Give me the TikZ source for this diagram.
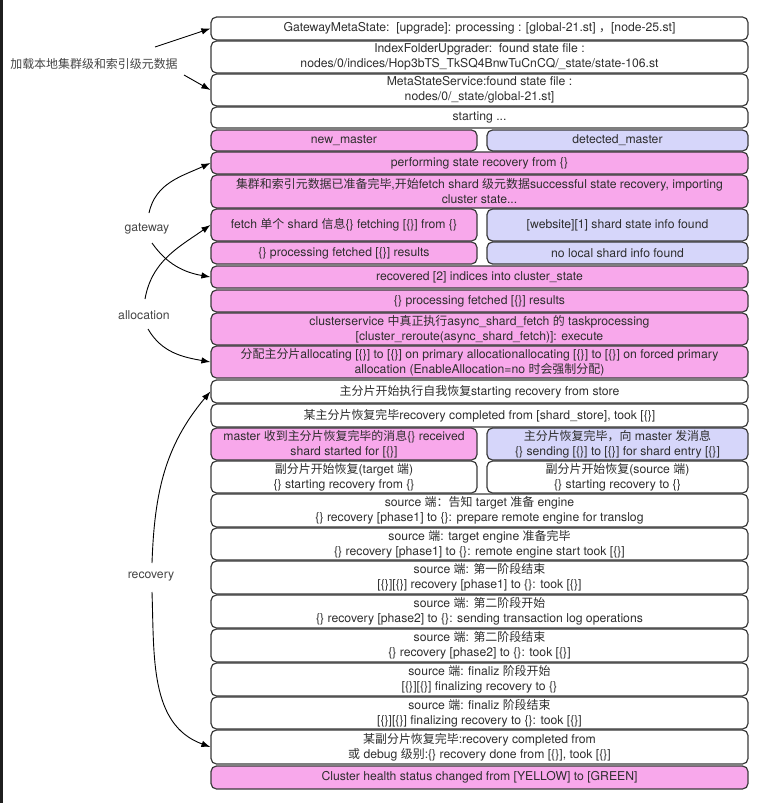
\documentclass[tikz,border=0pt]{standalone}
\usepackage{fontspec}
\setmainfont{TeX Gyre Heros}
\newfontfamily\cjkfont[Scale=0.98]{Noto Sans CJK SC}
\newcommand\zh[1]{{\cjkfont #1}}
\usetikzlibrary{arrows.meta}
\definecolor{bpink}{HTML}{F8A8EB}
\definecolor{blav}{HTML}{D6D6FA}
\definecolor{bline}{HTML}{3A3A3A}
\definecolor{btext}{HTML}{2E2E2E}
\definecolor{ltext}{HTML}{444444}
\tikzset{
  box/.style={draw=bline, line width=1.2pt, rounded corners=5.5pt, inner sep=0pt,
    align=center, text=btext, font=\fontsize{12.2}{15}\selectfont},
  lbl/.style={text=ltext, font=\fontsize{12.2}{15}\selectfont, inner sep=1pt},
  arr/.style={draw=black, line width=0.9pt, -{Latex[length=9pt,width=6.5pt]}}
}
\newcommand\drawbox[7]{%
  \node[box, fill=#6, minimum width={(#3-#2)*1pt}, minimum height={(#5-#4)*1pt}]
    (#1) at ({(#2+#3)/2},{-(#4+#5)/2}) {#7};}
\begin{document}
\begin{tikzpicture}[x=1pt,y=1pt]
\useasboundingbox (0,0) rectangle (769,-803);
\fill[black!88] (0,0) rectangle (3,-803);
% boxes
\drawbox{b1}{211}{748}{17}{40}{white}{GatewayMetaState:\ \ [upgrade]: processing : [global-21.st] \zh{，}[node-25.st]}
\drawbox{b2}{211}{748}{41}{73}{white}{IndexFolderUpgrader:\ \ found state file :\\nodes/0/indices/Hop3bTS\_TkSQ4BnwTuCnCQ/\_state/state-106.st}
\drawbox{b3}{211}{748}{74}{106}{white}{MetaStateService:found state file :\\nodes/0/\_state/global-21.st]}
\drawbox{b4}{211}{748}{107}{128}{white}{starting ...}
\drawbox{b5a}{211}{477}{130}{151}{bpink}{new\_master}
\drawbox{b5b}{487}{748}{130}{151}{blav}{detected\_master}
\drawbox{b6}{211}{748}{152}{174}{bpink}{performing state recovery from \{\}}
\drawbox{b7}{211}{748}{175}{208}{bpink}{\zh{集群和索引元数据已准备完毕},\zh{开始}fetch shard \zh{级元数据}successful state recovery, importing\\cluster state...}
\drawbox{b8a}{211}{477}{209}{241}{bpink}{fetch \zh{单个} shard \zh{信息}\{\} fetching [\{\}] from \{\}}
\drawbox{b8b}{487}{748}{209}{241}{blav}{[website][1] shard state info found}
\drawbox{b9a}{211}{477}{242}{264}{bpink}{\{\} processing fetched [\{\}] results}
\drawbox{b9b}{487}{748}{242}{264}{blav}{no local shard info found}
\drawbox{b10}{211}{748}{266}{288}{bpink}{recovered [2] indices into cluster\_state}
\drawbox{b11}{211}{748}{290}{312}{bpink}{\{\} processing fetched [\{\}] results}
\drawbox{b12}{211}{748}{313}{345}{bpink}{clusterservice \zh{中真正执行}async\_shard\_fetch \zh{的} taskprocessing\\{}[cluster\_reroute(async\_shard\_fetch)]: execute}
\drawbox{b13}{211}{748}{346}{378}{bpink}{\zh{分配主分片}allocating [\{\}] to [\{\}] on primary allocationallocating [\{\}] to [\{\}] on forced primary\\allocation (EnableAllocation=no \zh{时会强制分配})}
\drawbox{b14}{211}{748}{380}{403}{white}{\zh{主分片开始执行自我恢复}starting recovery from store}
\drawbox{b15}{211}{748}{404}{427}{white}{\zh{某主分片恢复完毕}recovery completed from [shard\_store], took [\{\}]}
\drawbox{b16a}{211}{477}{428}{460}{bpink}{master \zh{收到主分片恢复完毕的消息}\{\} received\\shard started for [\{\}]}
\drawbox{b16b}{487}{748}{428}{460}{blav}{\zh{主分片恢复完毕，向} master \zh{发消息}\\\{\} sending [\{\}] to [\{\}] for shard entry [\{\}]}
\drawbox{b17a}{211}{477}{461}{493}{white}{\zh{副分片开始恢复}(target \zh{端})\\\{\} starting recovery from \{\}}
\drawbox{b17b}{487}{748}{461}{493}{white}{\zh{副分片开始恢复}(source \zh{端})\\\{\} starting recovery to \{\}}
\drawbox{b18}{211}{748}{494}{527}{white}{source \zh{端：告知} target \zh{准备} engine\\\{\} recovery [phase1] to \{\}: prepare remote engine for translog}
\drawbox{b19}{211}{748}{528}{560}{white}{source \zh{端}: target engine \zh{准备完毕}\\\{\} recovery [phase1] to \{\}: remote engine start took [\{\}]}
\drawbox{b20}{211}{748}{561}{594}{white}{source \zh{端}: \zh{第一阶段结束}\\{}[\{\}][\{\}] recovery [phase1] to \{\}: took [\{\}]}
\drawbox{b21}{211}{748}{595}{628}{white}{source \zh{端}: \zh{第二阶段开始}\\\{\} recovery [phase2] to \{\}: sending transaction log operations}
\drawbox{b22}{211}{748}{629}{662}{white}{source \zh{端}: \zh{第二阶段结束}\\\{\} recovery [phase2] to \{\}: took [\{\}]}
\drawbox{b23}{211}{748}{663}{696}{white}{source \zh{端}: finaliz \zh{阶段开始}\\{}[\{\}][\{\}] finalizing recovery to \{\}}
\drawbox{b24}{211}{748}{697}{729}{white}{source \zh{端}: finaliz \zh{阶段结束}\\{}[\{\}][\{\}] finalizing recovery to \{\}: took [\{\}]}
\drawbox{b25}{211}{748}{730}{764}{white}{\zh{某副分片恢复完毕}:recovery completed from\\\zh{或} debug \zh{级别}:\{\} recovery done from [\{\}], took [\{\}]}
\drawbox{b26}{211}{748}{766}{789}{bpink}{Cluster health status changed from [YELLOW] to [GREEN]}
% labels
\node[lbl] (lab0) at (94,-64) {\zh{加载本地集群级和索引级元数据}};
\node[lbl] (gw) at (147,-229) {gateway};
\node[lbl] (al) at (144,-315) {allocation};
\node[lbl] (rc) at (151,-577) {recovery};
% arrow tails
\coordinate (t1) at (155,-47);
\coordinate (t2) at (184,-75);
\coordinate (g1) at (149,-213);
\coordinate (g2) at (152,-243);
\coordinate (a1) at (145,-299);
\coordinate (a2) at (148,-329);
\coordinate (r1) at (152,-563);
\coordinate (r2) at (152,-592);
% arrows
\draw[arr] (t1) -- (b1.west);
\draw[arr] (t2) -- (b3.west);
\draw[arr] (g1) to[out=78,in=205] (b6.west);
\draw[arr] (g2) to[out=-55,in=170] (b10.west);
\draw[arr] (a1) to[out=80,in=215] (b8a.west);
\draw[arr] (a2) to[out=-60,in=170] (b13.west);
\draw[arr] (r1) to[out=88,in=230] (b14.west);
\draw[arr] (r2) to[out=-88,in=160] (b25.west);
\end{tikzpicture}
\end{document}
